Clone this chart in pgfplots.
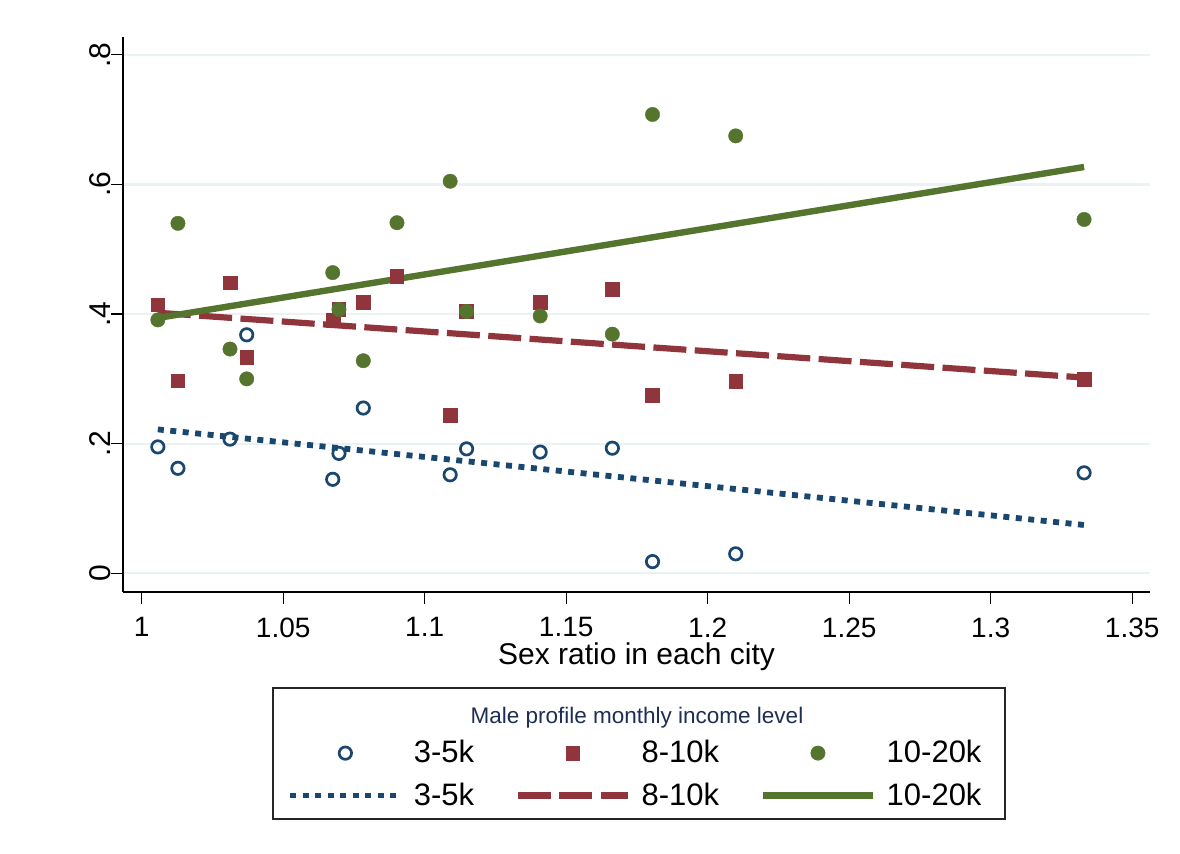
\documentclass[border=0pt]{standalone}
\usepackage{fontspec}
\setmainfont{Liberation Sans}
\usepackage{pgfplots}
\pgfplotsset{compat=1.18}
\definecolor{snavy}{RGB}{26,71,111}
\definecolor{smaroon}{RGB}{144,53,59}
\definecolor{sgreen}{RGB}{85,117,47}
\definecolor{sgrid}{RGB}{234,242,243}
\definecolor{stitle}{RGB}{30,45,85}

\pgfplotstableread{
x y
1.0057 0.195
1.0128 0.162
1.0312 0.207
1.0371 0.368
1.0675 0.145
1.0697 0.185
1.0783 0.255
1.1090 0.152
1.1148 0.192
1.1408 0.187
1.1663 0.193
1.1805 0.018
1.2099 0.030
1.3330 0.155
}\lowdata
\pgfplotstableread{
x y
1.0057 0.414
1.0128 0.297
1.0312 0.448
1.0371 0.333
1.0677 0.390
1.0697 0.407
1.0783 0.418
1.0902 0.458
1.1090 0.244
1.1148 0.404
1.1408 0.418
1.1663 0.438
1.1805 0.275
1.2099 0.296
1.3330 0.299
}\middata
\pgfplotstableread{
x y
1.0057 0.391
1.0128 0.540
1.0312 0.346
1.0371 0.300
1.0675 0.464
1.0697 0.407
1.0783 0.328
1.0902 0.541
1.1090 0.605
1.1148 0.404
1.1408 0.397
1.1663 0.369
1.1805 0.708
1.2099 0.675
1.3330 0.546
}\highdata

\pgfplotsset{
  markkey/.style={legend image code/.code={\draw[mark repeat=2,mark phase=2,##1] plot coordinates {(0pt,0pt)(27.5pt,0pt)(55pt,0pt)};}},
  linekey/.style={legend image code/.code={\draw[##1] (0pt,0pt) -- (55pt,0pt);}},
}

\begin{document}
\begin{tikzpicture}
\useasboundingbox (-61.5pt,-131pt) rectangle (528.5pt,296pt);
\begin{axis}[
  at={(0pt,0pt)}, anchor=south west,
  scale only axis, width=513.5pt, height=277.5pt,
  xmin=0.99339, xmax=1.35629, ymin=-0.0289, ymax=0.8276,
  axis x line*=bottom, axis y line*=left,
  axis line style={line width=0.6pt, black, -},
  xtick={1,1.05,1.1,1.15,1.2,1.25,1.3,1.35},
  xticklabels={1,1.05,1.1,1.15,1.2,1.25,1.3,1.35},
  ytick={0,0.2,0.4,0.6,0.8},
  yticklabels={0,.2,.4,.6,.8},
  tick align=outside, major tick length=6pt,
  tick style={line width=0.6pt, black},
  ymajorgrids, grid style={sgrid, line width=1.1pt},
  /pgf/number format/assume math mode=true,
  xticklabel style={font=\fontsize{14}{16}\selectfont, yshift=-3.2pt},
  yticklabel style={font=\fontsize{15}{17}\selectfont, rotate=90, anchor=south, inner sep=0pt},
  xlabel={Sex ratio in each city},
  xlabel style={font=\fontsize{15}{18}\selectfont, yshift=4pt},
  legend columns=3,
  legend style={at={(axis description cs:0.5,0)}, anchor=north, yshift=-72pt,
    draw=none, fill=none, inner sep=0pt, name=L,
    font=\fontsize{15.5}{18}\selectfont, row sep=4.5pt,
    /tikz/every odd column/.append style={column sep=3.3pt},
    /tikz/every even column/.append style={column sep=18.3pt}},
  legend cell align=left,
]
\addplot[only marks, markkey, mark=o, mark size=3.1pt, mark options={draw=snavy, line width=1.35pt}] table[x=x,y=y] {\lowdata};
\addlegendentry{3-5k}
\addplot[only marks, markkey, mark=square*, mark size=3.4pt, mark options={draw=smaroon, fill=smaroon, line width=0.3pt, rounded corners=1pt}] table[x=x,y=y] {\middata};
\addlegendentry{8-10k}
\addplot[only marks, markkey, mark=*, mark size=3.6pt, mark options={draw=sgreen, fill=sgreen, line width=0.2pt}] table[x=x,y=y] {\highdata};
\addlegendentry{10-20k}
\addplot[linekey, snavy, line width=2.9pt, dash pattern=on 3pt off 3.25pt] coordinates {(1.0057,0.222) (1.3330,0.0745)};
\addlegendentry{3-5k}
\addplot[linekey, smaroon, line width=3.1pt, dash pattern=on 16.5pt off 4.2pt] coordinates {(1.0057,0.402) (1.3330,0.302)};
\addlegendentry{8-10k}
\addplot[linekey, sgreen, line width=3.2pt] coordinates {(1.0057,0.394) (1.3330,0.627)};
\addlegendentry{10-20k}
\end{axis}
\node[anchor=base, font=\fontsize{11.25}{13}\selectfont, text=stitle] at (257pt,-66pt) {Male profile monthly income level};
\draw[line width=0.6pt, black!85] (75pt,-48pt) rectangle (441pt,-113.5pt);
\end{tikzpicture}
\end{document}
